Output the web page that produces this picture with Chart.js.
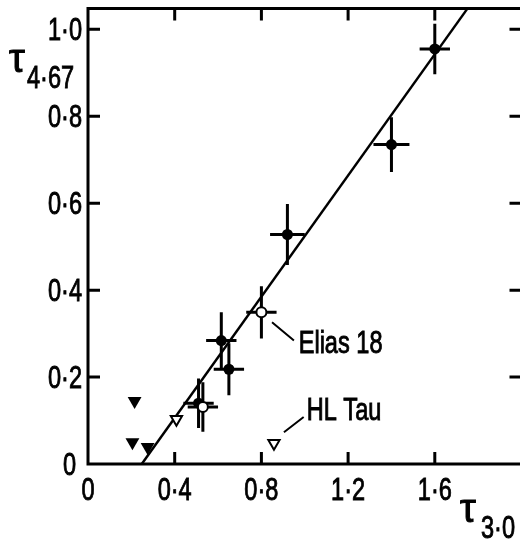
<!DOCTYPE html>
<html>
<head>
<meta charset="utf-8">
<script src="https://cdn.jsdelivr.net/npm/chart.js@4"></script>
<style>
  html, body { margin: 0; padding: 0; background: #fff; overflow: hidden; }
  #wrap { width: 520px; height: 545px; overflow: hidden; }
</style>
</head>
<body>
<div id="wrap"><canvas id="TauChart" width="530" height="545"></canvas></div>
<script>
// detections with error bars (filled circles)
const detX = [1.6, 1.4, 0.92, 0.615, 0.65, 0.51];
const detY = [0.955, 0.735, 0.528, 0.284, 0.218, 0.14];
const detXErr = [0.07, 0.083, 0.08, 0.07, 0.07, 0.07];
const detYErr = [0.058, 0.063, 0.07, 0.065, 0.06, 0.057];

// open circles (Elias 18 and its neighbour)
const openX = [0.8, 0.53];
const openY = [0.349, 0.131];
const openXErr = [0.07, 0.07];
const openYErr = [0.06, 0.057];

// upper limits
const limX = [0.215, 0.205, 0.275];
const limY = [0.145, 0.05, 0.039];
const openLimX = [0.408, 0.858];
const openLimY = [0.103, 0.048];

// fitted line
const fitX = [0.248, 1.748];
const fitY = [0, 1.046];

// axes
const xTicks = [0, 0.4, 0.8, 1.2, 1.6];
const xTickLabels = ['0', '0·4', '0·8', '1·2', '1·6'];
const yTicks = [0, 0.2, 0.4, 0.6, 0.8, 1.0];
const yTickLabels = ['0', '0·2', '0·4', '0·6', '0·8', '1·0'];

const FONT = "'Liberation Sans', sans-serif";
const SQUEEZE = 0.76;

const toPts = (xs, ys) => xs.map((x, i) => ({ x: x, y: ys[i] }));

// condensed, slightly heavy text: Liberation squeezed horizontally
function narrowText(ctx, text, x, y, align) {
    ctx.save();
    ctx.translate(x, y);
    ctx.scale(SQUEEZE, 1);
    ctx.textAlign = align;
    ctx.lineWidth = 0.9;
    ctx.fillText(text, 0, 0);
    ctx.strokeText(text, 0, 0);
    ctx.restore();
}

// error bars drawn under the markers
const errorBars = {
    id: 'errorBars',
    beforeDatasetsDraw(chart) {
        const ctx = chart.ctx;
        const xs = chart.scales.x, ys = chart.scales.y;
        ctx.save();
        ctx.strokeStyle = '#000';
        ctx.lineWidth = 3;
        chart.data.datasets.forEach(ds => {
            if (!ds.xErr) return;
            ds.data.forEach((p, i) => {
                const px = xs.getPixelForValue(p.x), py = ys.getPixelForValue(p.y);
                ctx.beginPath();
                ctx.moveTo(xs.getPixelForValue(p.x - ds.xErr[i]), py);
                ctx.lineTo(xs.getPixelForValue(p.x + ds.xErr[i]), py);
                ctx.moveTo(px, ys.getPixelForValue(p.y - ds.yErr[i]));
                ctx.lineTo(px, ys.getPixelForValue(p.y + ds.yErr[i]));
                ctx.stroke();
            });
        });
        ctx.restore();
    }
};

// frame with inward ticks, labels and axis titles
const frame = {
    id: 'frame',
    afterDraw(chart) {
        const ctx = chart.ctx;
        const xs = chart.scales.x, ys = chart.scales.y;
        const a = chart.chartArea;
        const tl = 12;
        ctx.save();
        ctx.strokeStyle = '#000';
        ctx.lineWidth = 3;
        ctx.strokeRect(a.left, a.top, a.right - a.left, a.bottom - a.top);
        ctx.beginPath();
        xTicks.forEach(v => {
            if (v === 0) return;
            const px = xs.getPixelForValue(v);
            ctx.moveTo(px, a.bottom); ctx.lineTo(px, a.bottom - tl);
            ctx.moveTo(px, a.top); ctx.lineTo(px, a.top + tl);
        });
        yTicks.forEach(v => {
            if (v === 0) return;
            const py = ys.getPixelForValue(v);
            ctx.moveTo(a.left, py); ctx.lineTo(a.left + tl, py);
            ctx.moveTo(a.right, py); ctx.lineTo(a.right - tl, py);
        });
        ctx.stroke();

        ctx.fillStyle = '#000';
        ctx.textBaseline = 'alphabetic';
        ctx.font = '31px ' + FONT;

        // tick labels
        xTicks.forEach((v, i) => {
            narrowText(ctx, xTickLabels[i], xs.getPixelForValue(v), a.bottom + 36, 'center');
        });
        yTicks.forEach((v, i) => {
            const right = v === 0 ? a.left - 12 : a.left - 6;
            narrowText(ctx, yTickLabels[i], right, ys.getPixelForValue(v) + 11, 'right');
        });

        // leader lines and source names
        ctx.lineWidth = 2;
        ctx.beginPath();
        ctx.moveTo(xs.getPixelForValue(0.849), ys.getPixelForValue(0.326));
        ctx.lineTo(xs.getPixelForValue(0.95), ys.getPixelForValue(0.284));
        ctx.moveTo(xs.getPixelForValue(0.904), ys.getPixelForValue(0.073));
        ctx.lineTo(xs.getPixelForValue(0.995), ys.getPixelForValue(0.108));
        ctx.stroke();
        narrowText(ctx, 'Elias 18', xs.getPixelForValue(0.972), ys.getPixelForValue(0.255), 'left');
        narrowText(ctx, 'HL Tau', xs.getPixelForValue(1.009), ys.getPixelForValue(0.101), 'left');

        // axis titles
        narrowText(ctx, '4·67', 27, 88, 'left');
        narrowText(ctx, '3·0', 481, 538, 'left');
        ctx.font = '40px ' + FONT;
        ctx.textAlign = 'left';
        ctx.lineWidth = 1;
        ctx.fillText('τ', 9, 72);
        ctx.strokeText('τ', 9, 72);
        ctx.fillText('τ', 460, 522);
        ctx.strokeText('τ', 460, 522);
        ctx.restore();
    }
};

new Chart(document.getElementById('TauChart'), {
    type: 'scatter',
    data: {
        datasets: [
            {
                data: toPts(fitX, fitY), type: 'line', showLine: true,
                borderColor: '#000', borderWidth: 2.5, pointRadius: 0, order: 10
            },
            {
                data: toPts(detX, detY), xErr: detXErr, yErr: detYErr,
                pointRadius: 5.5, pointBackgroundColor: '#000', pointBorderWidth: 0, order: 2
            },
            {
                data: toPts(openX, openY), xErr: openXErr, yErr: openYErr,
                pointRadius: 5, pointBackgroundColor: '#fff', pointBorderColor: '#000', pointBorderWidth: 2, order: 1
            },
            {
                data: toPts(limX, limY), pointStyle: 'triangle', rotation: 180,
                pointRadius: 8, pointBackgroundColor: '#000', pointBorderWidth: 0, order: 1
            },
            {
                data: toPts(openLimX, openLimY), pointStyle: 'triangle', rotation: 180,
                pointRadius: 6.5, pointBackgroundColor: '#fff', pointBorderColor: '#000', pointBorderWidth: 2, order: 1
            }
        ]
    },
    options: {
        responsive: false,
        animation: false,
        layout: { padding: { top: 7, right: 6, left: 0, bottom: 0 } },
        plugins: { legend: { display: false }, tooltip: { enabled: false } },
        scales: {
            x: {
                type: 'linear', min: 0, max: 2.0,
                afterBuildTicks: s => { s.ticks = xTicks.map(v => ({ value: v })); },
                afterFit: s => { s.height = 81; },
                grid: { display: false, drawTicks: false },
                border: { display: false },
                ticks: { display: false }
            },
            y: {
                type: 'linear', min: 0, max: 1.048,
                afterBuildTicks: s => { s.ticks = yTicks.map(v => ({ value: v })); },
                afterFit: s => { s.width = 88; },
                grid: { display: false, drawTicks: false },
                border: { display: false },
                ticks: { display: false }
            }
        }
    },
    plugins: [errorBars, frame]
});
</script>
</body>
</html>
